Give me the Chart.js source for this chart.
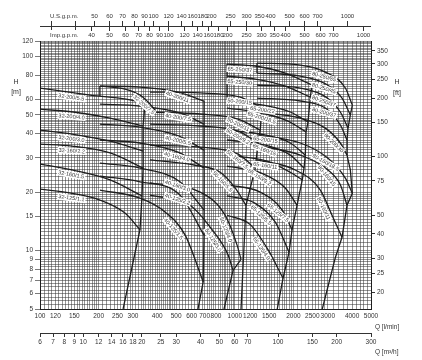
<!DOCTYPE html>
<html>
<head>
<meta charset="utf-8">
<script src="https://cdn.jsdelivr.net/npm/chart.js@4.4.0/dist/chart.umd.min.js"></script>
<style>
  html, body { margin: 0; padding: 0; background: #fff; }
  #wrap { width: 422px; height: 360px; position: relative; }
</style>
</head>
<body>
<div id="wrap"><canvas id="chart"></canvas></div>
<script>
// axis tick labels
const qTicks = [100,120,150,200,250,300,400,500,600,700,800,1000,1200,1500,2000,2500,3000,4000,5000];
const hTicks = [5,6,7,8,9,10,15,20,30,40,50,60,80,100,120];
const ftTicks = [20,25,30,40,50,75,100,150,200,250,300,350];
const m3hTicks = [6,7,8,9,10,12,14,16,18,20,25,30,40,50,60,70,100,150,200,300];
const usTicks = [30,40,50,60,70,80,90,100,120,140,160,180,200,250,300,350,400,500,600,700,1000];
const impTicks = [40,50,60,70,80,90,100,120,140,160,180,200,250,300,350,400,500,600,700,1000];

// pump curves: name, Q [l/min], H [m], and the Q where the name sits
const curveNames = [
  '32-200/5.5','32-200/4.0','32-200/3.0','32-160/2.2','32-160/1.5','32-125/1.1','32-200/7.5',
  '40-200/11','40-200/7.5','40-200/5.5','40-160/4.0','40-160/3.0','40-125/2.2','40-125/1.5',
  '50-200/15','50-200/11','50-200/9.2','50-160/7.5','50-160/5.5','50-125/4.0','50-125/3.0',
  '65-250/37','65-250/30','65-200/22','65-200/18.5','65-200/15','65-160/15','65-160/11','65-160/9.2',
  '65-125/7.5','65-125/5.5','65-125/4.0',
  '80-250/55','80-250/45','80-250/37','80-200/37','80-200/30','80-160/18.5','80-160/15','80-160/11'
];
const curveQ = [
  [100,181,326,346],[100,148,229,338],[100,146,229,338],[100,146,229,338],[100,146,229,334],[100,146,203,273,326],[203,273,326,367,389],
  [203,326,511,695],[203,326,523,695],[203,326,517,695],[203,326,511,695],[203,326,523,695],[203,326,523,695],[203,326,438,556,688],
  [367,664,1066,1379],[367,664,1039,1350],[367,664,1039,1316],[367,664,1039,1273],[367,626,841,1004,1141],[367,664,892,1026,1076],[367,589,764,923,979],
  [912,1273,1815,2491],[912,1273,1815,2440],[912,1396,1926,2375],[912,1379,1876,2320],[912,1446,1926,2300],[912,1433,1926,2266],[912,1463,1926,2219],[912,1379,1815,2086],
  [912,1350,1747,1967],[912,1273,1613,1898],[912,1200,1480,1768],
  [1300,2168,2914,3692,4010],[1300,2168,2938,3550,3917],[1300,2168,2938,3480,3811],[1300,2168,2914,3480,3766],[1300,2168,2914,3480,3766],
  [1300,2168,3009,3692,4010],[1300,2168,3009,3480,3766],[1300,2043,2747,3154,3550]
];
const curveH = [
  [68.7,63.2,58.2,56.8],[53.5,51.7,48.1,43.8],[41.7,39.8,36.6,32.5],[35.3,34.5,31.8,26.6],[27.9,26.0,23.1,19.1],[20.7,19.7,18.2,15.6,12.8],[70.3,67.9,63.2,56.8,52.9],
  [70.3,69.5,65.5,58.9],[56.8,55.5,51.1,44.8],[44.8,43.2,38.9,32.9],[37.1,35.8,32.1,26.6],[28.2,26.6,22.6,16.2],[24.2,22.6,19.3,12.0],[20.5,18.6,15.8,12.0,6.9],
  [65.5,64.8,61.7,54.2],[51.7,50.5,47.5,41.7],[44.8,43.8,41.2,35.8],[34.9,34.1,31.4,26.6],[29.3,27.5,25.3,21.0,17.1],[22.3,20.0,15.2,10.7,9.0],[19.3,17.1,12.8,9.5,7.9],
  [91.3,89.2,82.0,71.2],[79.1,76.4,70.3,61.7],[59.6,56.1,51.7,45.9],[54.2,51.1,46.4,40.8],[41.7,39.3,35.8,31.0],[37.1,34.9,31.0,26.6],[31.0,28.9,25.3,23.1],[27.2,25.0,21.0,17.1],
  [21.8,20.0,16.2,12.8],[19.1,17.5,14.0,9.8],[15.2,13.6,10.1,7.2],
  [92.4,90.2,83.0,68.7,56.1],[82.0,79.1,72.0,61.0,49.9],[71.2,68.7,61.7,51.7,42.7],[61.0,58.9,54.2,44.3,37.1],[51.7,48.1,42.7,35.8,31.0],
  [39.3,35.8,29.9,23.6,19.7],[34.9,31.0,26.0,21.8,17.1],[29.3,26.0,20.5,15.2,11.7]
];
const labelQ = [
  146,146,146,146,146,146,354,
  517,517,517,511,517,517,505,
  1066,1066,1066,1066,900,947,811,
  1066,1066,1396,1396,1446,1446,1446,1380,
  1727,1415,1433,
  2914,2914,2914,2914,3346,3009,3092,3009
];

// range limit lines (end of curves, left edges of families)
const limitQ = [
  [267,326,334,338,338,338,346,389],
  [203,203],
  [647,688,695,695,695],
  [880,979,1076],
  [1076,1141,1273,1316,1350,1379],
  [912,912],
  [1651,1768,1898,1967,2086,2219,2266,2300,2320,2375,2440,2491],
  [1300,1300],
  [2811,3280,3550,3766,4010,3917,3766,3766,3811,3917,4010]
];
const limitH = [
  [5.0,12.8,19.1,26.6,32.5,43.8,56.8,52.9],
  [70.3,62.5],
  [5.0,6.9,12.0,44.8,58.9],
  [5.0,7.9,9.0],
  [5.0,17.1,26.6,35.8,41.7,54.2],
  [91.3,59.6],
  [5.0,7.2,9.8,12.8,17.1,23.1,26.6,31.0,40.8,45.9,61.7,71.2],
  [92.4,82.0],
  [5.0,9.2,11.7,17.1,19.7,26.0,31.0,37.1,42.7,49.9,56.1]
];

const LPM_PER_USGPM = 3.785, LPM_PER_IMPGPM = 4.546, FT_PER_M = 3.2808;

function steps(ranges, last) {
  const out = [];
  for (const [a, b, s] of ranges) {
    for (let v = a; v < b - 1e-9; v += s) out.push(+v.toFixed(3));
  }
  out.push(last);
  return out;
}
const xGrid = steps([[100,200,5],[200,500,10],[500,1000,20],[1000,2000,50],[2000,3000,100],[3000,5000,200]], 5000);
const yGrid = steps([[5,10,0.25],[10,20,0.5],[20,50,1],[50,120,2]], 120);

const ink = '#1e1e1e';
const gridCol = 'rgba(50,50,50,0.8)';
const tickFont = { family: 'Liberation Sans, Arial, sans-serif', size: 6.5 };

const datasets = [];
curveNames.forEach((name, i) => {
  datasets.push({
    label: name,
    labelQ: labelQ[i],
    data: curveQ[i].map((q, j) => ({ x: q, y: curveH[i][j] })),
    borderColor: ink, borderWidth: 1.3, pointRadius: 0,
    cubicInterpolationMode: 'monotone', fill: false
  });
});
limitQ.forEach((qs, i) => {
  datasets.push({
    label: '',
    data: qs.map((q, j) => ({ x: q, y: limitH[i][j] })),
    borderColor: ink, borderWidth: 1.3, pointRadius: 0, tension: 0, fill: false
  });
});

// curve names in white boxes along the curves
const curveTags = {
  id: 'curveTags',
  afterDatasetsDraw(chart) {
    const ctx = chart.ctx;
    const xs = chart.scales.x;
    ctx.save();
    ctx.font = '5.5px Liberation Sans, Arial, sans-serif';
    ctx.textAlign = 'center';
    ctx.textBaseline = 'middle';
    chart.data.datasets.forEach((ds, i) => {
      if (!ds.label) return;
      const pts = chart.getDatasetMeta(i).data;
      const px = xs.getPixelForValue(ds.labelQ);
      let k = 0;
      while (k < pts.length - 2 && pts[k + 1].x < px) k++;
      const a = pts[k], b = pts[k + 1];
      const t = (px - a.x) / (b.x - a.x);
      const py = a.y + t * (b.y - a.y);
      const ang = Math.atan2(b.y - a.y, b.x - a.x);
      const w = ctx.measureText(ds.label).width + 2;
      ctx.save();
      ctx.translate(px, py);
      ctx.rotate(ang);
      ctx.fillStyle = '#fff';
      ctx.fillRect(-w / 2, 1.5, w, 6.5);
      ctx.fillStyle = '#333';
      ctx.fillText(ds.label, 0, 4.9);
      ctx.restore();
    });
    ctx.restore();
  }
};

// gpm scales on top and unit captions
const extras = {
  id: 'extras',
  afterDraw(chart) {
    const ctx = chart.ctx;
    const xs = chart.scales.x;
    const area = chart.chartArea;
    const lineY = 26;
    ctx.save();
    ctx.strokeStyle = '#333';
    ctx.lineWidth = 1;
    ctx.beginPath();
    ctx.moveTo(area.left, lineY + 0.5);
    ctx.lineTo(area.right, lineY + 0.5);
    ctx.stroke();
    ctx.font = '6px Liberation Sans, Arial, sans-serif';
    ctx.fillStyle = '#333';
    ctx.textAlign = 'center';
    ctx.textBaseline = 'middle';
    usTicks.forEach(g => {
      const x = Math.round(xs.getPixelForValue(g * LPM_PER_USGPM)) + 0.5;
      ctx.beginPath();
      ctx.moveTo(x, lineY - 5);
      ctx.lineTo(x, lineY + (g < 50 ? 4 : 0));
      ctx.stroke();
      if (g >= 50) ctx.fillText(String(g), x, 16);
    });
    impTicks.forEach(g => {
      const x = Math.round(xs.getPixelForValue(g * LPM_PER_IMPGPM)) + 0.5;
      ctx.beginPath();
      ctx.moveTo(x, lineY);
      ctx.lineTo(x, lineY + 5);
      ctx.stroke();
      ctx.fillText(String(g), x, 35.5);
    });
    ctx.textAlign = 'left';
    ctx.fillText('U.S.g.p.m.', 50, 16);
    ctx.fillText('Imp.g.p.m.', 50, 35.5);
    ctx.textAlign = 'center';
    ctx.font = '7px Liberation Sans, Arial, sans-serif';
    ctx.fillText('H', 16, 82);
    ctx.fillText('[m]', 16, 92);
    ctx.fillText('H', 397, 82);
    ctx.fillText('[ft]', 397, 93);
    ctx.textAlign = 'left';
    ctx.font = '6.5px Liberation Sans, Arial, sans-serif';
    ctx.fillText('Q [l/min]', 375, 327);
    ctx.fillText('Q [m\u00b3/h]', 375, 352);
    ctx.restore();
  }
};

new Chart(document.getElementById('chart'), {
  type: 'scatter',
  data: { datasets },
  plugins: [curveTags, extras],
  options: {
    responsive: true,
    maintainAspectRatio: false,
    animation: false,
    layout: { padding: { top: 41, left: 0, right: 0, bottom: 0 } },
    plugins: { legend: { display: false }, tooltip: { enabled: false } },
    showLine: true,
    scales: {
      x: {
        type: 'logarithmic', position: 'bottom', min: 100, max: 5000, weight: 0,
        afterBuildTicks: s => { s.ticks = xGrid.map(v => ({ value: v })); },
        afterFit: s => { s.height = 24; },
        ticks: { autoSkip: false, maxRotation: 0, padding: 3, font: tickFont, color: '#333',
          callback: v => qTicks.includes(v) ? String(v) : '' },
        grid: { color: gridCol, lineWidth: 0.65, drawTicks: false },
        border: { color: ink, width: 1 }
      },
      x2: {
        type: 'logarithmic', position: 'bottom', min: 6, max: 300, weight: 1,
        afterBuildTicks: s => { s.ticks = m3hTicks.map(v => ({ value: v })); },
        afterFit: s => { s.height = 27; },
        ticks: { autoSkip: false, maxRotation: 0, padding: 1, font: tickFont, color: '#333',
          callback: v => String(v) },
        grid: { drawOnChartArea: false, tickLength: 4, color: '#333', lineWidth: 1 },
        border: { color: '#333', width: 1 }
      },
      y: {
        type: 'logarithmic', position: 'left', min: 5, max: 120,
        afterBuildTicks: s => { s.ticks = yGrid.map(v => ({ value: v })); },
        afterFit: s => { s.width = 40; },
        ticks: { autoSkip: false, padding: 2, font: tickFont, color: '#333',
          callback: v => hTicks.includes(v) ? String(v) : '' },
        grid: { color: gridCol, lineWidth: 0.65, tickLength: 5,
          tickColor: c => (c.tick && hTicks.includes(c.tick.value)) ? '#333' : 'rgba(0,0,0,0)' },
        border: { color: ink, width: 1 }
      },
      y2: {
        type: 'logarithmic', position: 'right', min: 5 * FT_PER_M, max: 120 * FT_PER_M,
        afterBuildTicks: s => { s.ticks = ftTicks.map(v => ({ value: v })); },
        afterFit: s => { s.width = 51; },
        ticks: { autoSkip: false, padding: 2, font: tickFont, color: '#333',
          callback: v => String(v) },
        grid: { drawOnChartArea: false, tickLength: 4, color: '#333', lineWidth: 1 },
        border: { color: ink, width: 1 }
      }
    }
  }
});
</script>
</body>
</html>
